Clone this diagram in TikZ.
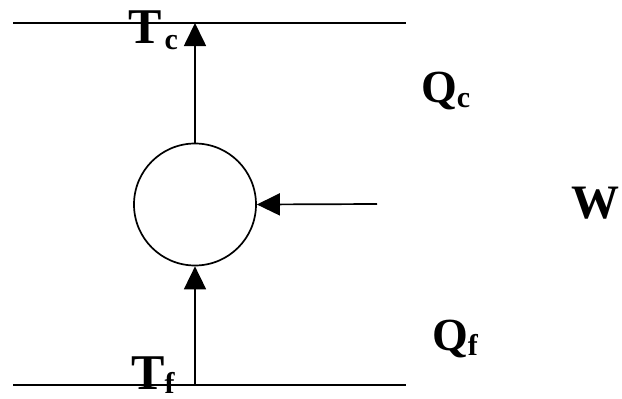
\documentclass[tikz,border=0pt]{standalone}
\usepackage{fontspec}
\setmainfont{Liberation Serif}
\usetikzlibrary{arrows.meta}
\newcommand{\bigf}{\fontsize{46}{46}\selectfont\bfseries}
\newcommand{\bigt}{\fontsize{50}{50}\selectfont\bfseries}
\newcommand{\subf}{\fontsize{30}{30}\selectfont\bfseries}
\begin{document}
\begin{tikzpicture}[x=1pt,y=-1pt,
  line/.style={line width=1.7pt},
  flow/.style={line width=1.7pt,-{Triangle[length=23pt,width=22pt]}},
  lab/.style={anchor=base west,inner sep=0pt,font=\bigf}]
\useasboundingbox (0,0) rectangle (622,399);
\coordinate (tl) at (13,23);
\coordinate (tr) at (406,23);
\coordinate (bl) at (13,385);
\coordinate (br) at (406,385);
\coordinate (wsrc) at (377,204);
\node[draw,circle,line width=1.7pt,minimum size=122pt,inner sep=0pt] (eng) at (195,204.5) {};
\draw[line] (tl) -- (tr);
\draw[line] (bl) -- (br);
\coordinate (topmid) at (eng.north |- tl);
\coordinate (botmid) at (eng.south |- bl);
\draw[flow] (eng.north) -- (topmid);
\draw[flow] (botmid) -- (eng.south);
\draw[flow] (wsrc) -- (eng.east);
\node[lab,font=\bigt] (tc) at (128,43) {T\hspace{3pt}\raisebox{-6pt}{\subf c}};
\node[lab,font=\bigt] (tf) at (131,389) {T\raisebox{-4pt}{\subf f}};
\node[lab] (qc) at (421,102) {Q\raisebox{-5pt}{\subf c}};
\node[lab] (qf) at (432,350) {Q\raisebox{-5pt}{\subf f}};
\node[lab,font=\fontsize{48}{48}\selectfont\bfseries] (w) at (571,218) {W};
\end{tikzpicture}
\end{document}
